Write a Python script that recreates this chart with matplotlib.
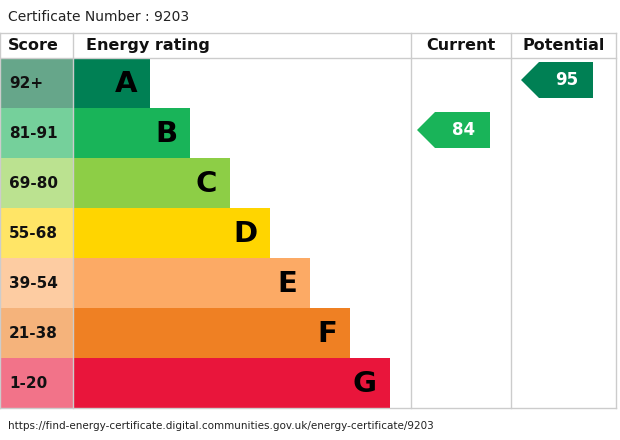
import matplotlib
matplotlib.use("Agg")
import matplotlib.pyplot as plt
from matplotlib.patches import Rectangle, Polygon

BANDS = ["A", "B", "C", "D", "E", "F", "G"]
SCORES = ["92+", "81-91", "69-80", "55-68", "39-54", "21-38", "1-20"]
LOWER = [92, 81, 69, 55, 39, 21, 1]
COLORS = ["#008054", "#19b459", "#8dce46", "#ffd500", "#fcaa65", "#ef8023", "#e9153b"]
SCORE_COLORS = ["#66a68a", "#75d09b", "#bbe290", "#ffe566", "#fdcca2", "#f5b37b", "#f27389"]
CURRENT = 84
POTENTIAL = 95

W, H = 620, 440
fig = plt.figure(figsize=(W / 100, H / 100), dpi=100)
ax = fig.add_axes([0, 0, 1, 1])
ax.set_xlim(0, W)
ax.set_ylim(H, 0)
ax.axis("off")

TOP, HDR, ROW = 33, 25, 50
X_SCORE, X_BAR, X_CUR, X_POT, X_END = 0, 73, 411, 511, 616
BOTTOM = TOP + HDR + ROW * len(BANDS)

ax.text(8, 17, "Certificate Number : 9203", fontsize=10, va="center", color="#222222")

# grid lines
line = dict(color="#cccccc", lw=1)
ax.plot([X_SCORE, X_END], [TOP, TOP], **line)
ax.plot([X_SCORE, X_END], [TOP + HDR, TOP + HDR], **line)
ax.plot([X_SCORE, X_END], [BOTTOM, BOTTOM], **line)
for x in [X_SCORE, X_BAR, X_CUR, X_POT, X_END]:
    ax.plot([x, x], [TOP, BOTTOM], **line)

hfont = dict(fontsize=11.5, fontweight="bold", va="center", color="#111111")
ax.text(8, TOP + HDR / 2, "Score", **hfont)
ax.text(86, TOP + HDR / 2, "Energy rating", **hfont)
ax.text((X_CUR + X_POT) / 2, TOP + HDR / 2, "Current", ha="center", **hfont)
ax.text((X_POT + X_END) / 2, TOP + HDR / 2, "Potential", ha="center", **hfont)

for i, (b, s, c, sc) in enumerate(zip(BANDS, SCORES, COLORS, SCORE_COLORS)):
    y = TOP + HDR + i * ROW
    ax.add_patch(Rectangle((X_SCORE, y), X_BAR - X_SCORE, ROW, color=sc, lw=0))
    ax.text(9, y + ROW / 2, s, fontsize=11, fontweight="bold", va="center", color="#111111")
    right = X_BAR + 77 + 40 * i
    ax.add_patch(Rectangle((X_BAR, y), right - X_BAR, ROW, color=c, lw=0))
    ax.text(right - 13, y + ROW / 2 + 1, b, fontsize=21, fontweight="bold",
            ha="right", va="center", color="#000000")


def band_of(v):
    for i, lo in enumerate(LOWER):
        if v >= lo:
            return i
    return len(LOWER) - 1


def arrow(v, x0, x1):
    i = band_of(v)
    y0 = TOP + HDR + i * ROW + 4
    h = 36
    tip = 18
    ax.add_patch(Polygon([(x0, y0 + h / 2), (x0 + tip, y0), (x1, y0), (x1, y0 + h),
                          (x0 + tip, y0 + h)], closed=True, color=COLORS[i], lw=0))
    ax.text((x0 + tip + x1) / 2 + 1, y0 + h / 2, str(v), fontsize=12, fontweight="bold",
            ha="center", va="center", color="white")


arrow(CURRENT, 417, 490)
arrow(POTENTIAL, 521, 593)

ax.text(8, 426, "https://find-energy-certificate.digital.communities.gov.uk/energy-certificate/9203",
        fontsize=7.5, va="center", color="#222222")

fig.savefig("out.png", dpi=100)
